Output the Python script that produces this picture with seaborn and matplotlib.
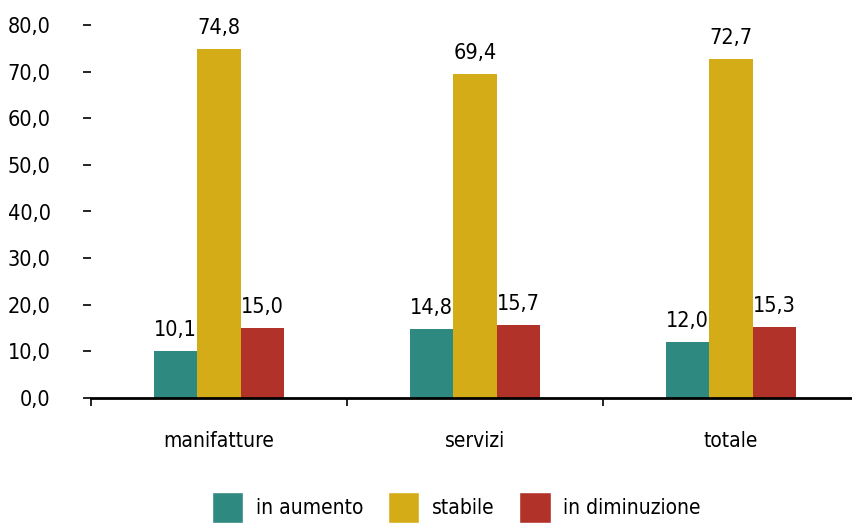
import matplotlib
matplotlib.use("Agg")
import matplotlib.pyplot as plt
import seaborn as sns
import pandas as pd
from matplotlib.patches import Patch

# data
categories = ["manifatture", "servizi", "totale"]
series = ["in aumento", "stabile", "in diminuzione"]
in_aumento = [10.1, 14.8, 12.0]
stabile = [74.8, 69.4, 72.7]
in_diminuzione = [15.0, 15.7, 15.3]
y_ticks = [0, 10, 20, 30, 40, 50, 60, 70, 80]

colors = ["#2E8980", "#D4AC18", "#B03228"]

df = pd.DataFrame({
    "settore": categories * 3,
    "serie": [s for s in series for _ in categories],
    "valore": in_aumento + stabile + in_diminuzione,
})

sns.set_style("white")
plt.rcParams["font.family"] = ["DejaVu Sans"]
plt.rcParams["font.stretch"] = "condensed"
plt.rcParams["text.color"] = "black"
plt.rcParams["xtick.color"] = "black"
plt.rcParams["ytick.color"] = "black"

fig = plt.figure(figsize=(8.53, 5.23), dpi=100)
ax = fig.add_axes([91 / 853, 125 / 523, 768 / 853, 373 / 523])

sns.barplot(data=df, x="settore", y="valore", hue="serie", order=categories,
            hue_order=series, palette=colors, width=0.51, gap=0,
            saturation=1, linewidth=0, legend=False, ax=ax)

def fmt(v):
    return f"{v:.1f}".replace(".", ",")

for cont in ax.containers:
    ax.bar_label(cont, labels=[fmt(b.get_height()) for b in cont],
                 padding=8, fontsize=15.5, color="black")

ax.set_ylim(0, 80)
ax.set_xlim(-0.5, 2.5)
ax.set_yticks(y_ticks)
ax.set_yticklabels([fmt(t) for t in y_ticks], fontsize=15.5)
ax.tick_params(axis="y", left=True, length=6, width=1.2, color="black",
               labelcolor="black", pad=23)
ax.set_xticks(range(len(categories)))
ax.set_xticklabels(categories, fontsize=15)
ax.set_xticks([-0.5, 0.5, 1.5, 2.5], minor=True)
ax.tick_params(axis="x", which="major", length=0, pad=24, labelcolor="black")
ax.tick_params(axis="x", which="minor", bottom=True, length=6, width=1.2, color="black")
ax.set_xlabel("")
ax.set_ylabel("")
for s in ["left", "right", "top"]:
    ax.spines[s].set_visible(False)
ax.spines["bottom"].set_color("black")
ax.spines["bottom"].set_linewidth(2)

handles = [Patch(facecolor=c, label=s) for c, s in zip(colors, series)]
fig.legend(handles=handles, loc="lower center", bbox_to_anchor=(0.535, -0.035),
           ncol=3, frameon=False, fontsize=15, handlelength=1.5, handleheight=1.9,
           columnspacing=1.2, handletextpad=0.6, labelcolor="black")

fig.savefig("out.png", dpi=100)
